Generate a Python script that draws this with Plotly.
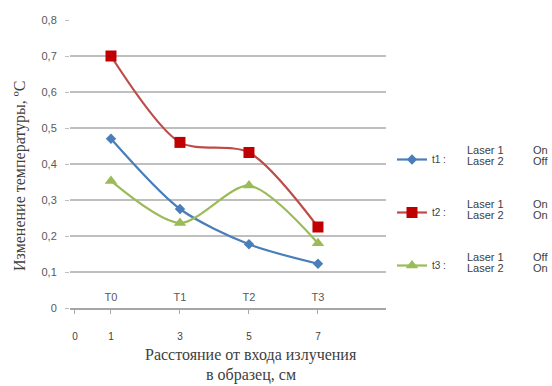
import plotly.graph_objects as go

# Measurement points along the sample
points = ["T0", "T1", "T2", "T3"]
distance_labels = ["0", "1", "3", "5", "7"]

# Temperature change, ºС
t1 = [0.47, 0.275, 0.177, 0.123]
t2 = [0.70, 0.46, 0.432, 0.225]
t3 = [0.353, 0.236, 0.340, 0.180]

y_ticks = [0, 0.1, 0.2, 0.3, 0.4, 0.5, 0.6, 0.7, 0.8]
y_tick_text = ["0", "0,1", "0,2", "0,3", "0,4", "0,5", "0,6", "0,7", "0,8"]

series_names = ["t1 :", "t2 :", "t3 :"]
laser1_state = ["On", "On", "Off"]
laser2_state = ["Off", "On", "On"]

W, H = 552, 386
L, R, T, B = 70, 166, 20, 78
pw, ph = W - L - R, H - T - B

idx = list(range(len(points)))
x_lo, x_hi = -0.594, 3.986


def px(x):
    return (x - L) / pw


def py(y_from_top):
    return (H - y_from_top - B) / ph


fig = go.Figure()

styles = [
    dict(color="#4A7EBB", line_color="#4A7EBB", symbol="diamond", size=8),
    dict(color="#C00000", line_color="#BE4B48", symbol="square", size=11),
    dict(color="#9BBB59", line_color="#9BBB59", symbol="triangle-up", size=11),
]

for name, vals, st in zip(series_names, [t1, t2, t3], styles):
    fig.add_trace(go.Scatter(
        x=idx, y=vals, name=name, mode="lines+markers",
        line=dict(color=st["line_color"], width=2.2, shape="spline", smoothing=0.8),
        marker=dict(color=st["color"], symbol=st["symbol"], size=st["size"]),
        legendgroup=name,
    ))

# row of point names just above the baseline
fig.add_trace(go.Scatter(x=[0], y=[None], xaxis="x2", showlegend=False, hoverinfo="skip"))

tick_font = dict(family="Liberation Sans, Arial", size=11, color="#595959")

fig.update_layout(
    width=W, height=H,
    margin=dict(l=L, r=R, t=T, b=B),
    paper_bgcolor="white", plot_bgcolor="white",
    showlegend=True,
    legend=dict(
        x=px(392), y=py(145),
        yanchor="top", xanchor="left",
        font=dict(family="Liberation Sans, Arial", size=10, color="#404040"),
        tracegroupgap=34, itemwidth=30, bgcolor="rgba(0,0,0,0)",
    ),
    # distance from the radiation entry, cm
    xaxis=dict(
        range=[x_lo, x_hi], tickmode="array",
        tickvals=[-0.522] + idx, ticktext=distance_labels,
        ticks="outside", ticklen=4, tickcolor="#A6A6A6", ticklabelstandoff=14,
        showgrid=False, zeroline=False,
        showline=True, linecolor="#A6A6A6", linewidth=1.5,
        tickfont=dict(family="Liberation Sans, Arial", size=10, color="#404040"),
    ),
    xaxis2=dict(
        overlaying="x", anchor="free", position=19 / ph, side="bottom", matches="x",
        range=[x_lo, x_hi], tickmode="array", tickvals=idx, ticktext=points,
        ticks="", showgrid=False, zeroline=False, showline=False,
        tickfont=tick_font,
    ),
    yaxis=dict(
        range=[0, 0.8], tickmode="array", tickvals=y_ticks, ticktext=y_tick_text,
        showgrid=True, gridcolor="#BFBFBF", gridwidth=1.6,
        zeroline=False, showline=False, ticks="outside", ticklen=4,
        tickcolor="#BFBFBF", ticklabelstandoff=6,
        tickfont=tick_font,
    ),
)

# axis titles in a serif face
title_font = dict(family="Liberation Serif, Times New Roman", size=16, color="#404040")
fig.add_annotation(
    text="Изменение температуры, ºС", textangle=-90,
    x=px(20), y=py(176), xref="paper", yref="paper", showarrow=False,
    xanchor="center", yanchor="middle", font=title_font,
)
fig.add_annotation(
    text="Расстояние от входа излучения",
    x=px(251), y=py(355), xref="paper", yref="paper", showarrow=False,
    xanchor="center", yanchor="middle", font=title_font,
)
fig.add_annotation(
    text="в образец, см",
    x=px(251), y=py(375), xref="paper", yref="paper", showarrow=False,
    xanchor="center", yanchor="middle", font=title_font,
)

# laser states next to each legend entry
legend_y = [156, 210, 263]
state_font = dict(family="Liberation Sans, Arial", size=11, color="#404040")
for yy, s1, s2 in zip(legend_y, laser1_state, laser2_state):
    for dy, label, state in ((-6, "Laser 1", s1), (5, "Laser 2", s2)):
        fig.add_annotation(
            text=label, x=px(465), y=py(yy + dy), xref="paper", yref="paper",
            xanchor="left", yanchor="middle", showarrow=False,
            font=state_font,
        )
        fig.add_annotation(
            text=state, x=px(531), y=py(yy + dy), xref="paper", yref="paper",
            xanchor="left", yanchor="middle", showarrow=False,
            font=state_font,
        )

fig.write_html("out.html")
